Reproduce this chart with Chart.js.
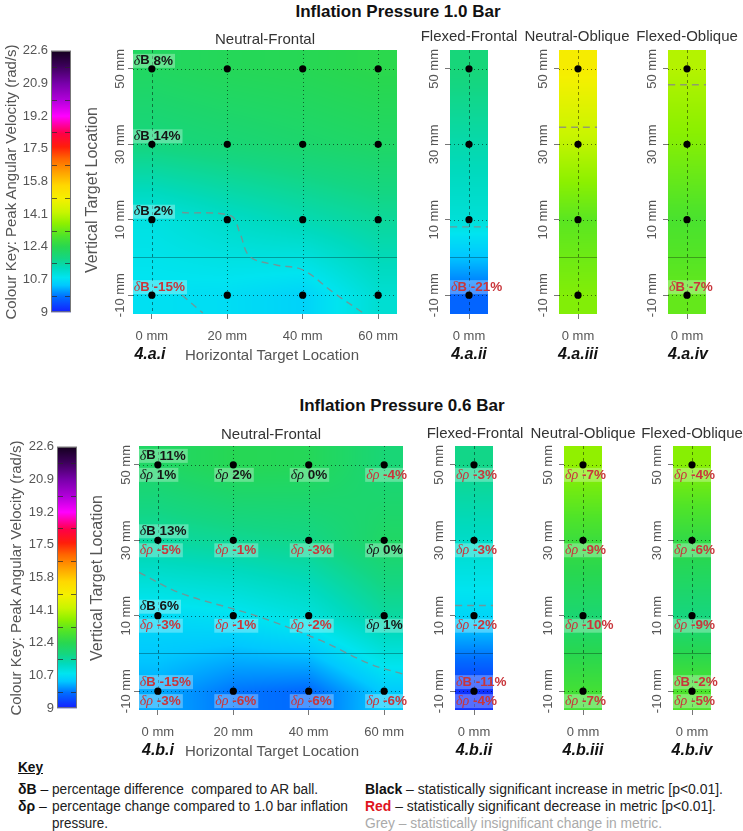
<!DOCTYPE html>
<html><head><meta charset="utf-8">
<script src="https://cdn.jsdelivr.net/npm/chart.js@4.4.1/dist/chart.umd.min.js"></script>
<style>
html,body{margin:0;padding:0;background:#fff;}
body{width:743px;height:831px;position:relative;overflow:hidden;font-family:"Liberation Sans",Arial,sans-serif;}
canvas{position:absolute;}
.t{position:absolute;white-space:nowrap;line-height:1;}
.k{position:absolute;white-space:nowrap;line-height:1;transform-origin:left center;transform:translateY(-50%);font-family:"Liberation Sans Narrow","Liberation Sans",Arial,sans-serif;font-size:14px;color:#222;}
</style></head><body>
<script>
// ---------------- data ----------------
const hCols = [0, 20, 40, 60];            // horizontal target location (mm)
const stripCols = [0];                    // strips only have 0 mm
const vRows = [50, 30, 10, -10];          // vertical target location (mm), top -> bottom
const cbTicks = [9, 10.7, 12.4, 14.1, 15.8, 17.5, 19.2, 20.9, 22.6];

const nf10 = [[12.2, 12.3, 12.35, 12.45], [11.85, 11.95, 12.05, 12.15], [10.95, 11.2, 11.4, 11.6], [10.75, 10.7, 10.55, 11.1]];
const ff10 = [11.9, 11.45, 11.05, 9.7];
const no10 = [15.0, 14.1, 13.1, 13.5];
const fo10 = [14.0, 13.5, 12.9, 13.2];
const nf06 = [[12.15, 12.35, 12.3, 11.95], [11.55, 11.65, 11.75, 12.15], [10.65, 10.75, 11.0, 11.55], [10.2, 9.85, 9.75, 10.45]];
const ff06 = [11.75, 11.2, 10.6, 9.2];
const no06 = [13.65, 12.7, 12.0, 12.8];
const fo06 = [13.55, 12.55, 11.85, 12.95];

// deltaB (%) vs AR ball, at the 0 mm column (null = no label)
const dB_nf10 = [8, 14, 2, -15];
const dB_ff10 = [null, null, null, -21];
const dB_fo10 = [null, null, null, -7];
const dB_nf06 = [11, 13, 6, -15];
const dB_ff06 = [null, null, null, -11];
const dB_fo06 = [null, null, null, -2];
// delta rho (%) vs 1.0 bar
const dR_nf06 = [[1, 2, 0, -4], [-5, -1, -3, 0], [-3, -1, -2, 1], [-3, -6, -6, -6]];
const dR_ff06 = [-3, -3, -2, -4];
const dR_no06 = [-7, -9, -10, -7];
const dR_fo06 = [-4, -6, -9, -5];

// grey dashed contours [x mm, y mm]
const cont_nf10a = [[8, 11.9], [21, 11], [23.3, 6.6], [26, 0.2], [33, -2], [40, -3.3], [48, -9.2], [56, -14.7]];
const cont_nf10b = [[8, -10], [13.5, -14.7]];
const cont_nf06 = [[-5, 21.5], [6, 16], [26, 10], [43, 3.5], [56, -2.7], [65, -5.5]];
const contLevel_ff10 = 8.1, contLevel_no10 = 34.5, contLevel_fo10 = 45.8, contLevel_ff06 = 12.7;

// ---------------- style ----------------
const FONT = '"Liberation Sans", Arial, sans-serif';
const SERIF = '"Liberation Serif", "DejaVu Serif", serif';
const STOPS = [
  [9.0, [20, 30, 255]], [9.8, [0, 110, 255]], [10.4, [0, 200, 255]], [10.8, [0, 228, 240]],
  [11.3, [0, 218, 190]], [11.8, [20, 214, 130]], [12.4, [40, 215, 80]], [13.0, [80, 228, 40]],
  [13.6, [140, 240, 0]], [14.2, [200, 245, 0]], [14.9, [245, 240, 0]], [15.6, [255, 215, 0]],
  [16.3, [255, 160, 0]], [17.0, [255, 100, 0]], [17.6, [255, 30, 10]], [18.3, [255, 0, 70]],
  [19.2, [255, 0, 255]], [20.0, [180, 0, 220]], [20.9, [120, 0, 170]], [21.8, [60, 0, 90]], [22.6, [20, 0, 30]]
];
function cmap(v) {
  if (v <= STOPS[0][0]) return STOPS[0][1];
  for (let i = 1; i < STOPS.length; i++) {
    if (v <= STOPS[i][0]) {
      const a = STOPS[i - 1], b = STOPS[i], t = (v - a[0]) / (b[0] - a[0]);
      return [0, 1, 2].map(k => a[1][k] + (b[1][k] - a[1][k]) * t);
    }
  }
  return STOPS[STOPS.length - 1][1];
}
function seg(arr, v) {
  if (arr.length === 1 || v <= arr[0]) return [0, 0];
  if (v >= arr[arr.length - 1]) return [arr.length - 2, 1];
  for (let i = 0; i < arr.length - 1; i++) if (v <= arr[i + 1]) return [i, (v - arr[i]) / (arr[i + 1] - arr[i])];
  return [arr.length - 2, 1];
}
function sample(g, x, y) {
  const [ix, tx] = seg(g.xs, x), [iy, ty] = seg(g.ys, y);
  const ix2 = g.xs.length === 1 ? 0 : ix + 1;
  const a = g.z[iy][ix] * (1 - tx) + g.z[iy][ix2] * tx;
  const b = g.z[iy + 1][ix] * (1 - tx) + g.z[iy + 1][ix2] * tx;
  return a * (1 - ty) + b * ty;
}

const PANELS = {};
Chart.register({
  id: 'panelDraw',
  beforeDatasetsDraw(chart) {
    const p = PANELS[chart.canvas.id]; if (!p) return;
    const ctx = chart.ctx, ca = chart.chartArea, xs = chart.scales.x, ys = chart.scales.y;
    if (p.kind === 'cbar') return;
    const w = Math.round(ca.right - ca.left), h = Math.round(ca.bottom - ca.top);
    const off = document.createElement('canvas'); off.width = w; off.height = h;
    const octx = off.getContext('2d'); const img = octx.createImageData(w, h);
    const xv = []; for (let px = 0; px < w; px++) xv.push(xs.getValueForPixel(ca.left + px + 0.5));
    for (let py = 0; py < h; py++) {
      const yv = ys.getValueForPixel(ca.top + py + 0.5);
      for (let px = 0; px < w; px++) {
        const c = cmap(sample(p.grid, xv[px], yv)); const k = (py * w + px) * 4;
        img.data[k] = c[0]; img.data[k + 1] = c[1]; img.data[k + 2] = c[2]; img.data[k + 3] = 255;
      }
    }
    octx.putImageData(img, 0, 0);
    ctx.drawImage(off, ca.left, ca.top);
    ctx.save();
    ctx.beginPath(); ctx.rect(ca.left, ca.top, ca.right - ca.left, ca.bottom - ca.top); ctx.clip();
    ctx.lineWidth = 1;
    ctx.strokeStyle = 'rgba(0,0,0,0.55)'; ctx.setLineDash([1, 3]);
    ys.ticks.forEach(t => { const y = Math.round(ys.getPixelForValue(t.value)) + 0.5; ctx.beginPath(); ctx.moveTo(ca.left, y); ctx.lineTo(ca.right, y); ctx.stroke(); });
    xs.ticks.forEach(t => { if (t.value === 0) return; const x = Math.round(xs.getPixelForValue(t.value)) + 0.5; ctx.beginPath(); ctx.moveTo(x, ca.top); ctx.lineTo(x, ca.bottom); ctx.stroke(); });
    ctx.strokeStyle = 'rgba(0,0,0,0.45)'; ctx.setLineDash([3, 3]);
    { const x = Math.round(xs.getPixelForValue(0)) + 0.5; ctx.beginPath(); ctx.moveTo(x, ca.top); ctx.lineTo(x, ca.bottom); ctx.stroke(); }
    ctx.setLineDash([]); ctx.strokeStyle = 'rgba(0,0,0,0.3)';
    { const y = Math.round(ys.getPixelForValue(0)) + 0.5; ctx.beginPath(); ctx.moveTo(ca.left, y); ctx.lineTo(ca.right, y); ctx.stroke(); }
    ctx.fillStyle = 'rgba(255,255,255,0.3)';
    p.labels.forEach(L => {
      const m = measureLabel(ctx, L);
      const x0 = xs.getPixelForValue(L.x) - 18, yc = ys.getPixelForValue(L.y) + L.dy;
      ctx.fillRect(x0 - 1, yc - 7, m + 3, 14);
    });
    ctx.restore();
  },
  afterDatasetsDraw(chart) {
    const p = PANELS[chart.canvas.id]; if (!p) return;
    const ctx = chart.ctx, ca = chart.chartArea, xs = chart.scales.x, ys = chart.scales.y;
    if (p.kind === 'cbar') {
      const top = ys.getPixelForValue(cbTicks[cbTicks.length - 1]), bot = ys.getPixelForValue(cbTicks[0]);
      const g = ctx.createLinearGradient(0, bot, 0, top);
      const span = cbTicks[cbTicks.length - 1] - cbTicks[0];
      STOPS.forEach(s => g.addColorStop(Math.min(1, Math.max(0, (s[0] - cbTicks[0]) / span)), 'rgb(' + s[1].map(Math.round).join(',') + ')'));
      ctx.save();
      ctx.fillStyle = g; ctx.fillRect(ca.left, ca.top, ca.right - ca.left, ca.bottom - ca.top);
      ctx.strokeStyle = 'rgba(40,40,40,0.7)'; ctx.lineWidth = 1; ctx.setLineDash([6, 8]);
      for (let i = 0; i < cbTicks.length - 1; i++) {
        const y = Math.round(ys.getPixelForValue((cbTicks[i] + cbTicks[i + 1]) / 2)) + 0.5;
        ctx.beginPath(); ctx.moveTo(ca.left, y); ctx.lineTo(ca.right, y); ctx.stroke();
      }
      ctx.setLineDash([]); ctx.strokeStyle = '#777';
      ctx.strokeRect(ca.left + 0.5, ca.top + 0.5, ca.right - ca.left - 1, ca.bottom - ca.top - 1);
      ctx.restore();
      return;
    }
    ctx.save();
    ctx.textBaseline = 'middle';
    p.labels.forEach(L => {
      let x = xs.getPixelForValue(L.x) - 18; const yc = ys.getPixelForValue(L.y) + L.dy;
      ctx.fillStyle = L.val < 0 ? '#c9363b' : '#151515';
      labelParts(L).forEach(part => { ctx.font = part.f; ctx.fillText(part.t, x, yc); x += ctx.measureText(part.t).width; });
    });
    ctx.fillStyle = '#555'; ctx.font = '13px ' + FONT; ctx.textAlign = 'center';
    ys.ticks.forEach(t => {
      ctx.save(); ctx.translate(ca.left - p.yOff, ys.getPixelForValue(t.value)); ctx.rotate(-Math.PI / 2);
      ctx.fillText(t.value + ' mm', 0, 0); ctx.restore();
    });
    ctx.restore();
  }
});
function labelParts(L) {
  return [
    { t: '\u03B4', f: 'italic 14px ' + SERIF },
    L.sym === 'B' ? { t: 'B', f: 'bold 13px ' + FONT } : { t: '\u03C1', f: 'italic 14px ' + SERIF },
    { t: ' ' + L.val + '%', f: 'bold 13.5px ' + FONT }
  ];
}
function measureLabel(ctx, L) {
  let w = 0; labelParts(L).forEach(p => { ctx.font = p.f; w += ctx.measureText(p.t).width; }); return w;
}

function tickOpts() {
  return { display: true, drawOnChartArea: false, drawTicks: true, tickLength: 5, tickColor: '#777', tickWidth: 1 };
}
function makePanel(o) {
  const padL = 70, padT = 12, padR = 50, padB = 50;
  const w = o.r - o.l, h = o.b - o.t;
  const cv = document.createElement('canvas');
  cv.id = o.id; cv.width = w + padL + padR; cv.height = h + padT + padB;
  cv.style.left = (o.l - padL) + 'px'; cv.style.top = (o.t - padT) + 'px';
  document.body.appendChild(cv);
  const ysAsc = vRows.slice().reverse();
  const zAsc = o.z.slice().reverse().map(r => Array.isArray(r) ? r : [r]);
  o.grid = { xs: o.xs, ys: ysAsc, z: zAsc };
  o.kind = 'panel';
  PANELS[o.id] = o;
  const pts = []; o.xs.forEach(x => vRows.forEach(y => pts.push({ x, y })));
  const datasets = [{ data: pts, pointRadius: 3.6, pointBackgroundColor: '#000', pointBorderWidth: 0, showLine: false }];
  (o.contours || []).forEach(c => datasets.push({
    data: c.map(([x, y]) => ({ x, y })), showLine: true, pointRadius: 0, borderColor: 'rgba(135,135,135,0.8)',
    borderWidth: 1.4, borderDash: [7, 5], tension: 0.35, fill: false
  }));
  new Chart(cv, {
    type: 'scatter',
    data: { datasets },
    options: {
      responsive: false, animation: false, events: [],
      layout: { padding: { left: 0, top: padT, right: padR, bottom: 0 }, autoPadding: false },
      plugins: { legend: { display: false }, tooltip: { enabled: false } },
      scales: {
        x: {
          type: 'linear', min: o.xr[0], max: o.xr[1],
          afterBuildTicks: s => { s.ticks = o.xs.map(v => ({ value: v })); },
          afterFit: s => { s.height = padB; },
          grid: tickOpts(), border: { display: false },
          ticks: { color: '#555', font: { size: 13, family: FONT }, padding: 10, maxRotation: 0, autoSkip: false, callback: v => v + ' mm' }
        },
        y: {
          type: 'linear', min: -15, max: 55,
          afterBuildTicks: s => { s.ticks = vRows.map(v => ({ value: v })); },
          afterFit: s => { s.width = padL; },
          grid: tickOpts(), border: { display: false },
          ticks: { display: false }
        }
      }
    }
  });
}
function makeCbar(id, l, t, r, b) {
  const padL = 50, padT = 10, padR = 10, padB = 10;
  const cv = document.createElement('canvas');
  cv.id = id; cv.width = (r - l) + padL + padR; cv.height = (b - t) + padT + padB;
  cv.style.left = (l - padL) + 'px'; cv.style.top = (t - padT) + 'px';
  document.body.appendChild(cv);
  PANELS[id] = { kind: 'cbar' };
  new Chart(cv, {
    type: 'scatter', data: { datasets: [] },
    options: {
      responsive: false, animation: false, events: [],
      layout: { padding: { left: 0, top: padT, right: padR, bottom: padB }, autoPadding: false },
      plugins: { legend: { display: false }, tooltip: { enabled: false } },
      scales: {
        x: { type: 'linear', min: 0, max: 1, display: false },
        y: {
          type: 'linear', min: 9, max: 22.6,
          afterBuildTicks: s => { s.ticks = cbTicks.map(v => ({ value: v })); },
          afterFit: s => { s.width = padL; },
          grid: { display: true, drawOnChartArea: false, drawTicks: false }, border: { display: false },
          ticks: { color: '#555', font: { size: 13, family: FONT }, padding: 3, autoSkip: false, callback: v => String(v) }
        }
      }
    }
  });
}
function labelsGrid(cols, dB, dR, dyB) {
  const out = [];
  vRows.forEach((y, i) => {
    if (dB && dB[i] !== null && dB[i] !== undefined) out.push({ x: 0, y, dy: dyB, sym: 'B', val: dB[i] });
    if (dR) cols.forEach((x, j) => { const v = Array.isArray(dR[i]) ? dR[i][j] : dR[i]; out.push({ x, y, dy: 10, sym: 'r', val: v }); });
  });
  return out;
}
function hline(v) { return [[-5, v], [5, v]]; }
function txt(s, cx, cy, style, rot) {
  const d = document.createElement('div'); d.className = 't'; d.innerHTML = s;
  d.style.cssText += style;
  d.style.left = cx + 'px'; d.style.top = cy + 'px';
  d.style.transform = 'translate(-50%,-50%)' + (rot ? ' rotate(-90deg)' : '');
  document.body.appendChild(d);
}

// ---------------- build ----------------
makeCbar('cb10', 51, 50, 71, 313);
makePanel({ id: 'nf10', l: 133, t: 50, r: 397, b: 314, xr: [-5, 65], xs: hCols, z: nf10, yOff: 13,
  labels: labelsGrid(hCols, dB_nf10, null, -8), contours: [cont_nf10a, cont_nf10b] });
makePanel({ id: 'ff10', l: 450, t: 50, r: 488, b: 314, xr: [-5, 5], xs: stripCols, z: ff10, yOff: 16,
  labels: labelsGrid(stripCols, dB_ff10, null, -8), contours: [hline(contLevel_ff10)] });
makePanel({ id: 'no10', l: 559, t: 50, r: 597, b: 314, xr: [-5, 5], xs: stripCols, z: no10, yOff: 16,
  labels: [], contours: [hline(contLevel_no10)] });
makePanel({ id: 'fo10', l: 668, t: 50, r: 706, b: 314, xr: [-5, 5], xs: stripCols, z: fo10, yOff: 16,
  labels: labelsGrid(stripCols, dB_fo10, null, -8), contours: [hline(contLevel_fo10)] });

makeCbar('cb06', 57, 446, 77, 709);
makePanel({ id: 'nf06', l: 139, t: 446, r: 403, b: 710, xr: [-5, 65], xs: hCols, z: nf06, yOff: 13,
  labels: labelsGrid(hCols, dB_nf06, dR_nf06, -9), contours: [cont_nf06] });
makePanel({ id: 'ff06', l: 455, t: 446, r: 493, b: 710, xr: [-5, 5], xs: stripCols, z: ff06, yOff: 16,
  labels: labelsGrid(stripCols, dB_ff06, dR_ff06, -9), contours: [hline(contLevel_ff06)] });
makePanel({ id: 'no06', l: 564, t: 446, r: 602, b: 710, xr: [-5, 5], xs: stripCols, z: no06, yOff: 16,
  labels: labelsGrid(stripCols, null, dR_no06, -9), contours: [] });
makePanel({ id: 'fo06', l: 673, t: 446, r: 711, b: 710, xr: [-5, 5], xs: stripCols, z: fo06, yOff: 16,
  labels: labelsGrid(stripCols, dB_fo06, dR_fo06, -9), contours: [] });

// ---------------- texts ----------------
const TITLE = 'font-weight:bold;font-size:17px;color:#111;';
const SUB = 'font-size:15px;color:#333;';
const AX = 'font-size:15px;color:#555;';
const PL = 'font-weight:bold;font-style:italic;font-size:16px;color:#111;';
txt('Inflation Pressure 1.0 Bar', 398, 11, TITLE);
txt('Neutral-Frontal', 265, 38, SUB);
txt('Flexed-Frontal', 469, 35, SUB);
txt('Neutral-Oblique', 577, 35, SUB);
txt('Flexed-Oblique', 687, 35, SUB);
txt('Colour Key: Peak Angular Velocity (rad/s)', 10, 182, AX, true);
txt('Vertical Target Location', 92, 190, 'font-size:16px;color:#555;', true);
txt('4.a.i', 150, 354, PL);
txt('Horizontal Target Location', 272, 354, AX);
txt('4.a.ii', 469, 354, PL);
txt('4.a.iii', 578, 354, PL);
txt('4.a.iv', 688, 354, PL);

txt('Inflation Pressure 0.6 Bar', 402, 405, TITLE);
txt('Neutral-Frontal', 271, 433, SUB);
txt('Flexed-Frontal', 475, 432, SUB);
txt('Neutral-Oblique', 583, 432, SUB);
txt('Flexed-Oblique', 692, 432, SUB);
txt('Colour Key: Peak Angular Velocity (rad/s)', 15, 578, AX, true);
txt('Vertical Target Location', 97, 578, 'font-size:16px;color:#555;', true);
txt('4.b.i', 158, 750, PL);
txt('Horizontal Target Location', 272, 750, AX);
txt('4.b.ii', 474, 750, PL);
txt('4.b.iii', 583, 750, PL);
txt('4.b.iv', 692, 750, PL);

function key(html, left, cy, target, extra) {
  const d = document.createElement('div'); d.className = 'k'; d.innerHTML = html;
  d.style.left = left + 'px'; d.style.top = cy + 'px'; if (extra) d.style.cssText += extra;
  document.body.appendChild(d);
  if (target) { const w = d.getBoundingClientRect().width; d.style.transform = 'translateY(-50%) scaleX(' + (target / w) + ')'; }
}
key('Key', 18, 767, 25, 'font-weight:bold;text-decoration:underline;color:#111;');
key('<b>\u03B4B</b> \u2013', 18, 789, 0, 'color:#111;');
key('percentage difference&nbsp; compared to AR ball.', 52, 789, 266);
key('<b>\u03B4\u03C1</b> \u2013', 18, 806, 0, 'color:#111;');
key('percentage change compared to 1.0 bar inflation', 52, 806, 296);
key('pressure.', 52, 823, 56);
key('<b style="color:#111">Black</b> \u2013 statistically significant increase in metric [p&lt;0.01].', 365, 789, 358);
key('<b style="color:#e0141e">Red</b> \u2013 statistically significant decrease in metric [p&lt;0.01].', 365, 806, 351);
key('Grey \u2013 statistically insignificant change in metric.', 365, 823, 297, 'color:#aaa;');
</script>
</body></html>
